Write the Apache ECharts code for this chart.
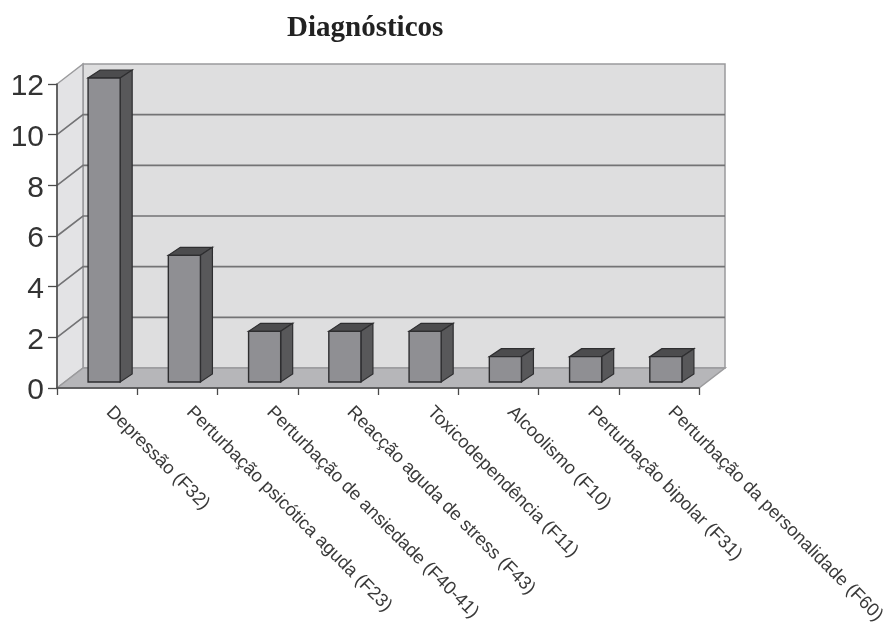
<!DOCTYPE html>
<html>
<head>
<meta charset="utf-8">
<script src="https://cdn.jsdelivr.net/npm/echarts@6/dist/echarts.min.js"></script>
<style>html,body{margin:0;padding:0;background:#fff}#c{width:892px;height:622px;filter:blur(0.55px)}</style>
</head>
<body>
<div id="c"></div>
<script>
const categories = ['Depressão (F32)','Perturbação psicótica aguda (F23)','Perturbação de ansiedade (F40-41)','Reacção aguda de stress (F43)','Toxicodependência (F11)','Alcoolismo (F10)','Perturbação bipolar (F31)','Perturbação da personalidade (F60)'];
const values = [12,5,2,2,2,1,1,1];
const yTicks = [0,2,4,6,8,10,12];
const titleText = 'Diagnósticos';

const wallDx = 26, wallDy = -20;
const barOffX = 7, barOffY = -6, barDx = 12, barDy = -8;
const barRatio = 0.40;

function poly(points, fill, stroke, w) {
  return {type:'polygon', shape:{points}, style:{fill, stroke:stroke||'none', lineWidth:w||0}};
}
function renderWalls(params, api) {
  const band = api.size([1,0])[0];
  const x0 = api.coord([0,0])[0]-band/2, x1 = api.coord([categories.length-1,0])[0]+band/2;
  const y0 = api.coord([0,0])[1], yT = api.coord([0,12])[1];
  const edge = '#9b9b9d';
  return {type:'group', children:[
    poly([[x0+wallDx,yT+wallDy],[x1+wallDx,yT+wallDy],[x1+wallDx,y0+wallDy],[x0+wallDx,y0+wallDy]],'#dededf',edge,1.5),
    poly([[x0,y0],[x0+wallDx,y0+wallDy],[x0+wallDx,yT+wallDy],[x0,yT]],'#e3e3e5',edge,1.5),
    poly([[x0,y0],[x1,y0],[x1+wallDx,y0+wallDy],[x0+wallDx,y0+wallDy]],'#b6b6b9',edge,1.5)
  ]};
}
function renderGrid(params, api) {
  const band = api.size([1,0])[0];
  const x0 = api.coord([0,0])[0]-band/2, x1 = api.coord([categories.length-1,0])[0]+band/2;
  const y = api.coord([0,api.value(0)])[1];
  const st = {stroke:'#737375', lineWidth:1.6, fill:'none'};
  return {type:'polyline', shape:{points:[[x0,y],[x0+wallDx,y+wallDy],[x1+wallDx,y+wallDy]]}, style:st};
}
function renderBar(params, api) {
  const p = api.coord([api.value(0),api.value(1)]);
  const b = api.coord([api.value(0),0]);
  const w = api.size([1,0])[0]*barRatio;
  const l = p[0]-w/2+barOffX, r = p[0]+w/2+barOffX;
  const t = p[1]+barOffY, bt = b[1]+barOffY;
  const s = '#2e2e30';
  return {type:'group', children:[
    poly([[l,t],[r,t],[r+barDx,t+barDy],[l+barDx,t+barDy]],'#4c4c4e',s,1.2),
    poly([[r,t],[r+barDx,t+barDy],[r+barDx,bt+barDy],[r,bt]],'#58585a',s,1.2),
    poly([[l,t],[r,t],[r,bt],[l,bt]],'#8f8f93',s,1.4)
  ]};
}

const chart = echarts.init(document.getElementById('c'));
chart.setOption({
  animation:false,
  backgroundColor:'#fff',
  title:{text:titleText,left:282,top:9,
    textStyle:{fontFamily:'Liberation Serif',fontWeight:'bold',fontSize:29,color:'#222'}},
  grid:{left:57,right:193,top:84,bottom:234,containLabel:false,outerBoundsMode:'none'},
  xAxis:{type:'category',data:categories,z:5,
    axisLine:{lineStyle:{color:'#4a4a4a',width:1.5}},
    axisTick:{show:true,alignWithLabel:false,length:7,lineStyle:{color:'#4a4a4a',width:1.3}},
    splitLine:{show:false},
    axisLabel:{interval:0,rotate:-45,margin:22,align:'left',verticalAlign:'bottom',padding:[0,0,0,8],fontFamily:'Liberation Sans',fontSize:18.4,color:'#3a3a3a'}},
  yAxis:{type:'value',min:0,max:12,interval:2,z:5,
    axisLine:{show:true,lineStyle:{color:'#4a4a4a',width:1.5}},
    axisTick:{show:true,length:9,lineStyle:{color:'#4a4a4a',width:1.3}},
    splitLine:{show:false},
    axisLabel:{margin:13,fontFamily:'Liberation Sans',fontSize:30,color:'#333',
      formatter:'{a|{value}}',rich:{a:{fontFamily:'Liberation Sans',fontSize:30,color:'#333',padding:[6,0,0,0]}}}},
  series:[
    {type:'custom',name:'walls',z:1,silent:true,data:[[0,0]],encode:{x:0,y:1},renderItem:renderWalls},
    {type:'custom',name:'grid',z:2,silent:true,coordinateSystem:'cartesian2d',data:yTicks.slice(1,-1).map(v=>[v]),encode:{y:0},renderItem:renderGrid},
    {type:'custom',name:'Diagnósticos',z:3,data:values.map((v,i)=>[i,v]),encode:{x:0,y:1},renderItem:renderBar}
  ]
});
</script>
</body>
</html>
